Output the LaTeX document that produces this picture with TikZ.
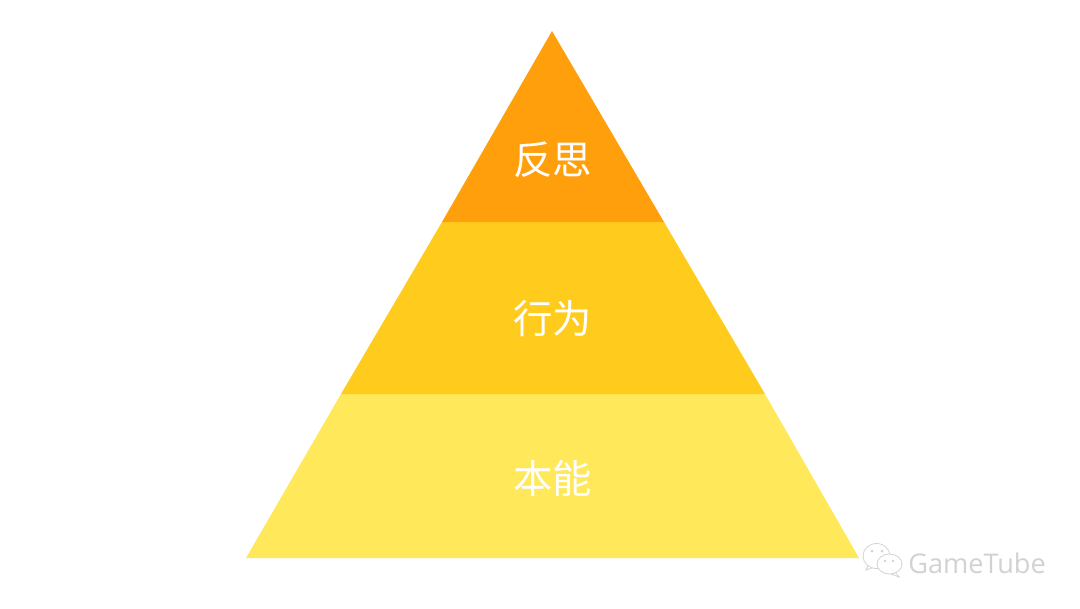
\documentclass[tikz,border=0pt]{standalone}
\usepackage{fontspec}
\usepackage{xcolor}
\usepackage{tikz}
\newfontfamily\cjk{Noto Sans CJK SC}
\setmainfont{Open Sans}
\definecolor{topcol}{HTML}{FF9F0C}
\definecolor{midcol}{HTML}{FFCC1E}
\definecolor{lowcol}{HTML}{FFE85A}
\definecolor{markcol}{HTML}{D2D2D2}

\begin{document}
\begin{tikzpicture}[
        x=0.025cm, y=-0.025cm,
        word/.style={text=white, font=\cjk\fontsize{28}{32}\selectfont, inner sep=0pt},
        bubble/.style={draw=markcol, fill=white, line width=0.55pt},
        brandtext/.style={text=markcol, font=\fontsize{19.3}{24}\selectfont, inner sep=0pt}
    ]
        \useasboundingbox (0,0) rectangle (1080,608);
        \fill[white] (0,0) rectangle (1080,608);
        % pyramid layers
        \fill[lowcol] (341,394) -- (765,394) -- (859,558) -- (246,558) -- cycle;
        \fill[midcol] (442,222) -- (664,222) -- (765,394) -- (341,394) -- cycle;
        \fill[topcol] (552,31) -- (664,222) -- (442,222) -- cycle;
        \node[word] (reflect) at (552.5,160) {反思};
        \node[word] (behave) at (552.5,319) {行为};
        \node[word] (instinct) at (552.5,478) {本能};
        % watermark
        \draw[bubble] (869,564) -- (866,570) -- (874,567);
        \draw[bubble] (876.5,556) ellipse [x radius=13.5, y radius=12.5];
        \draw[bubble] (895,572) -- (899,577) -- (891,574);
        \draw[bubble] (889.5,564) ellipse [x radius=12.5, y radius=10];
        \fill[markcol] (872,551) circle (1.5) (882,551) circle (1.5);
        \fill[markcol] (885,561) circle (1.4) (893,561) circle (1.4);
        \node[brandtext, anchor=west] (brand) at (908,563) {GameTube};
    \end{tikzpicture}
\end{document}
